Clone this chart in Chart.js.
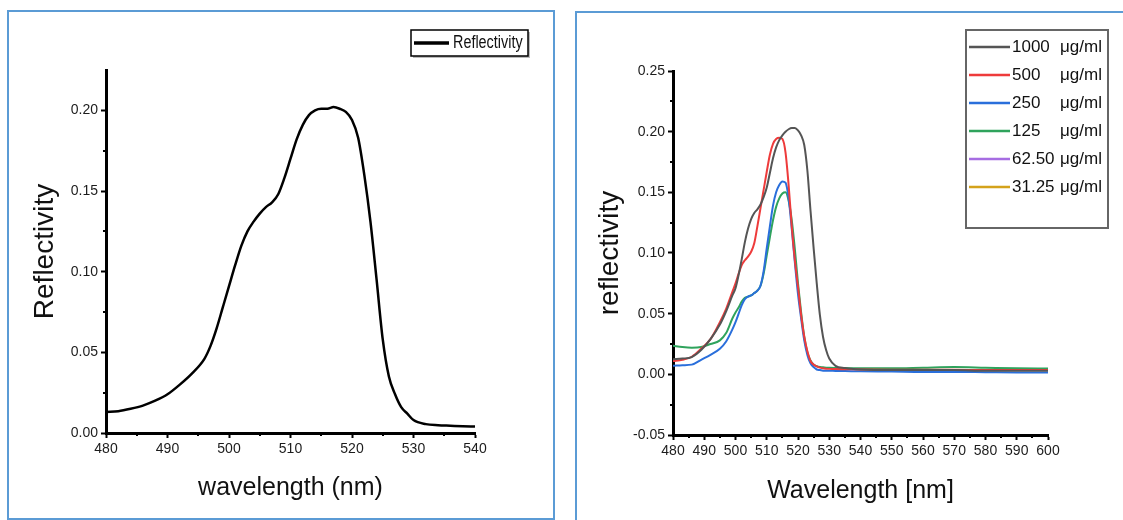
<!DOCTYPE html>
<html lang="en">
<head>
<meta charset="UTF-8">
<title>Reflectivity spectra</title>
<script src="https://cdn.jsdelivr.net/npm/chart.js@4.4.0/dist/chart.umd.min.js"></script>
<style>
  html, body { margin: 0; padding: 0; background: #fff; width: 1123px; height: 520px; overflow: hidden; }
  .panel { position: absolute; box-sizing: border-box; border: 2px solid #5b9bd5; }
  #leftPanel { left: 7px; top: 10px; width: 548px; height: 510px; }
  #rightPanel { left: 575px; top: 11px; width: 600px; height: 600px; }
  canvas { position: absolute; top: 0; }
  #leftChart { left: 0; }
  #rightChart { left: 575px; }
</style>
</head>
<body>
<div class="panel" id="leftPanel"></div>
<div class="panel" id="rightPanel"></div>
<canvas id="leftChart" width="560" height="520"></canvas>
<canvas id="rightChart" width="548" height="520"></canvas>

<script>
// ---- left panel: single spectrum ----
const leftWavelength = [480, 482, 484, 486, 488, 490, 492, 494, 496, 497, 498, 499, 500, 501, 502, 503, 504, 505, 506, 507, 508, 509, 510,
  511, 512, 513, 514, 515, 516, 517, 518, 519, 520, 521, 522, 523, 524, 525, 526, 527, 528, 529, 530, 532, 534, 536, 538, 540];
const leftReflectivity = [0.013, 0.0135, 0.015, 0.017, 0.020, 0.024, 0.030, 0.037, 0.046, 0.054, 0.065, 0.078, 0.091, 0.104, 0.116, 0.125, 0.131,
  0.136, 0.140, 0.143, 0.148, 0.158, 0.170, 0.182, 0.191, 0.197, 0.200, 0.201, 0.201, 0.202, 0.201, 0.199, 0.194, 0.183, 0.160, 0.131, 0.095,
  0.058, 0.035, 0.024, 0.016, 0.012, 0.008, 0.0055, 0.0048, 0.0045, 0.0042, 0.004];
const leftXTicks = [480, 490, 500, 510, 520, 530, 540];
const leftYTicks = [0, 0.05, 0.10, 0.15, 0.20];

// ---- right panel: concentration series ----
const rightWavelength = [480, 483, 486, 489, 492, 495, 497, 499, 500, 501, 502, 503, 504, 505, 506, 507, 508, 509, 510, 511, 512, 513, 514, 515,
  516, 517, 518, 519, 520, 521, 522, 523, 524, 525, 526, 527, 528, 529, 530, 532, 535, 540, 550, 560, 570, 580, 590, 600];
const concLabels = ['1000', '500', '250', '125', '62.50', '31.25'];
const unitLabel = 'μg/ml';
const conc1000 = [0.0125, 0.013, 0.0142, 0.020, 0.029, 0.041, 0.052, 0.065, 0.071, 0.082, 0.095, 0.109, 0.120, 0.128, 0.133, 0.136, 0.140, 0.146,
  0.154, 0.166, 0.178, 0.187, 0.193, 0.197, 0.200, 0.202, 0.203, 0.203, 0.201, 0.197, 0.189, 0.168, 0.135, 0.104, 0.075, 0.049, 0.031, 0.020,
  0.013, 0.007, 0.0052, 0.004, 0.0035, 0.0035, 0.0035, 0.003, 0.003, 0.003];
const conc500 = [0.011, 0.012, 0.0145, 0.021, 0.029, 0.043, 0.054, 0.068, 0.075, 0.083, 0.090, 0.094, 0.097, 0.101, 0.108, 0.122, 0.137, 0.152,
  0.167, 0.181, 0.190, 0.194, 0.195, 0.194, 0.183, 0.156, 0.122, 0.094, 0.072, 0.049, 0.031, 0.019, 0.011, 0.008, 0.0065, 0.0055, 0.005, 0.0047,
  0.0045, 0.0043, 0.0042, 0.004, 0.0038, 0.0037, 0.0037, 0.0035, 0.0035, 0.0035];
const conc250 = [0.007, 0.0075, 0.008, 0.012, 0.016, 0.021, 0.027, 0.037, 0.043, 0.050, 0.057, 0.062, 0.064, 0.065, 0.067, 0.069, 0.073, 0.085,
  0.104, 0.122, 0.139, 0.150, 0.156, 0.159, 0.158, 0.145, 0.120, 0.092, 0.066, 0.046, 0.028, 0.016, 0.009, 0.006, 0.004, 0.0035, 0.003, 0.003,
  0.003, 0.0028, 0.0027, 0.0025, 0.0023, 0.002, 0.002, 0.0018, 0.0016, 0.0015];
const conc125 = [0.0235, 0.0225, 0.022, 0.0225, 0.025, 0.028, 0.034, 0.046, 0.051, 0.055, 0.060, 0.063, 0.064, 0.065, 0.067, 0.069, 0.073, 0.083,
  0.098, 0.113, 0.127, 0.138, 0.145, 0.149, 0.150, 0.143, 0.127, 0.103, 0.075, 0.051, 0.031, 0.018, 0.0115, 0.008, 0.0067, 0.006, 0.0058, 0.0055,
  0.0054, 0.0053, 0.0052, 0.005, 0.005, 0.0055, 0.006, 0.0055, 0.005, 0.0048];
// the two lowest concentrations are listed in the legend but no curve of theirs is visible in the figure
const conc62_50 = [];
const conc31_25 = [];
const seriesColors = ['#555555', '#ee3b3b', '#2a6fdb', '#2fa35c', '#a66de2', '#d4a21b'];
const rightXTicks = [480, 490, 500, 510, 520, 530, 540, 550, 560, 570, 580, 590, 600];
const rightYTicks = [-0.05, 0, 0.05, 0.10, 0.15, 0.20, 0.25];

const regular = "'Liberation Sans', Arial, sans-serif";

function toPoints(xs, ys) {
  return ys.map((y, i) => ({ x: xs[i], y: y }));
}

// small outward minor ticks between the labelled ones
const minorTicks = {
  id: 'minorTicks',
  afterDraw(chart, args, opts) {
    const ctx = chart.ctx, xs = chart.scales.x, ys = chart.scales.y;
    ctx.save();
    ctx.strokeStyle = '#000';
    ctx.lineWidth = 2;
    ctx.beginPath();
    opts.x.forEach(v => {
      const px = Math.round(xs.getPixelForValue(v));
      ctx.moveTo(px, xs.top);
      ctx.lineTo(px, xs.top + opts.len);
    });
    opts.y.forEach(v => {
      const py = Math.round(ys.getPixelForValue(v));
      ctx.moveTo(ys.right - opts.len, py);
      ctx.lineTo(ys.right, py);
    });
    ctx.stroke();
    ctx.restore();
  }
};

// boxed legend in the Origin style
const boxLegend = {
  id: 'boxLegend',
  afterDraw(chart, args, o) {
    const ctx = chart.ctx;
    ctx.save();
    if (o.shadow) {
      ctx.fillStyle = '#bbb';
      ctx.fillRect(o.x + 2, o.y + 2, o.w, o.h);
      ctx.fillStyle = '#fff';
      ctx.fillRect(o.x, o.y, o.w, o.h);
    }
    ctx.strokeStyle = o.border;
    ctx.lineWidth = o.borderWidth;
    ctx.strokeRect(o.x, o.y, o.w, o.h);
    ctx.font = o.font;
    ctx.textBaseline = 'middle';
    ctx.fillStyle = '#111';
    const sx = o.textScaleX || 1;
    chart.data.datasets.forEach((ds, i) => {
      const cy = o.rowY + i * o.rowGap;
      ctx.strokeStyle = ds.borderColor;
      ctx.lineWidth = o.sampleWidth;
      ctx.beginPath();
      ctx.moveTo(o.sampleX0, cy);
      ctx.lineTo(o.sampleX1, cy);
      ctx.stroke();
      const parts = ds.label.split(' ');
      ctx.save();
      ctx.translate(o.textX, cy);
      ctx.scale(sx, 1);
      ctx.fillText(parts[0], 0, 0);
      ctx.restore();
      if (parts[1]) ctx.fillText(parts[1], o.unitX, cy);
    });
    ctx.restore();
  }
};

function axisOpts(min, max, tickList, fmt, size, title, titleFont, titlePad) {
  return {
    type: 'linear',
    min: min,
    max: max,
    afterBuildTicks: s => { s.ticks = tickList.map(v => ({ value: v })); },
    afterFit: s => { if (s.isHorizontal()) s.height = size; else s.width = size; },
    ticks: { callback: fmt, color: '#1c1c1c', padding: 3, maxRotation: 0, autoSkip: false,
      font: { family: regular, size: 14 } },
    grid: { display: true, drawOnChartArea: false, drawTicks: true, tickLength: 5, tickWidth: 2, tickColor: '#000' },
    border: { display: true, color: '#000', width: 3 },
    title: { display: true, text: title, color: '#111', font: { family: regular, size: titleFont }, padding: titlePad }
  };
}

new Chart(document.getElementById('leftChart'), {
  type: 'line',
  data: {
    datasets: [{
      label: 'Reflectivity',
      data: toPoints(leftWavelength, leftReflectivity),
      borderColor: '#000',
      borderWidth: 2.5,
      pointRadius: 0,
      cubicInterpolationMode: 'monotone'
    }]
  },
  options: {
    responsive: false,
    animation: false,
    events: [],
    layout: { padding: { left: 0, right: 85, top: 70, bottom: 0 } },
    scales: {
      x: axisOpts(480, 540, leftXTicks, v => v, 87, 'wavelength (nm)', 25, { top: 0, bottom: 17 }),
      y: axisOpts(0, 0.225, leftYTicks, v => v.toFixed(2), 106, 'Reflectivity', 28, { top: 28, bottom: 0 })
    },
    plugins: {
      legend: { display: false },
      tooltip: { enabled: false },
      minorTicks: { len: 3, x: [485, 495, 505, 515, 525, 535], y: [0.025, 0.075, 0.125, 0.175] },
      boxLegend: { x: 411, y: 30, w: 117, h: 26, border: '#000', borderWidth: 1.5, shadow: true,
        font: "18px " + regular, textScaleX: 0.8, rowY: 43, rowGap: 0, sampleX0: 414, sampleX1: 449, sampleWidth: 3.5,
        textX: 453, unitX: 0 }
    }
  },
  plugins: [minorTicks, boxLegend]
});

const rightSeries = [conc1000, conc500, conc250, conc125, conc62_50, conc31_25];

new Chart(document.getElementById('rightChart'), {
  type: 'line',
  data: {
    datasets: rightSeries.map((vals, i) => ({
      label: concLabels[i] + ' ' + unitLabel,
      data: toPoints(rightWavelength, vals),
      borderColor: seriesColors[i],
      borderWidth: 2,
      pointRadius: 0,
      cubicInterpolationMode: 'monotone'
    }))
  },
  options: {
    responsive: false,
    animation: false,
    events: [],
    layout: { padding: { left: 0, right: 75, top: 71, bottom: 0 } },
    scales: {
      x: axisOpts(480, 600, rightXTicks, v => v, 85, 'Wavelength [nm]', 25, { top: 0, bottom: 14 }),
      y: axisOpts(-0.05, 0.25, rightYTicks, v => v.toFixed(2), 98, 'reflectivity', 28, { top: 18, bottom: 0 })
    },
    plugins: {
      legend: { display: false },
      tooltip: { enabled: false },
      minorTicks: { len: 3, x: [485, 495, 505, 515, 525, 535, 545, 555, 565, 575, 585, 595],
        y: [-0.025, 0.025, 0.075, 0.125, 0.175, 0.225] },
      boxLegend: { x: 391, y: 30, w: 142, h: 198, border: '#666', borderWidth: 2, shadow: false,
        font: "17px " + regular, rowY: 47, rowGap: 28, sampleX0: 394, sampleX1: 435, sampleWidth: 2.5,
        textX: 437, unitX: 485 }
    }
  },
  plugins: [minorTicks, boxLegend]
});
</script>
</body>
</html>
